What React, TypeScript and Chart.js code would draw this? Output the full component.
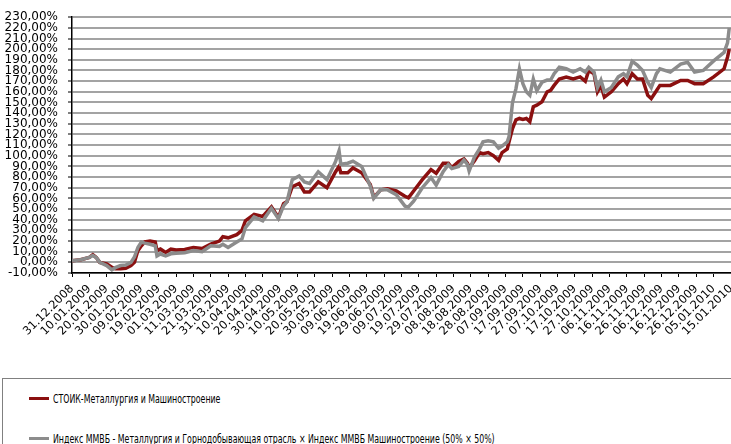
import React, { useEffect, useLayoutEffect, useRef } from "react";
import { Chart, registerables } from "chart.js";

Chart.register(...registerables);

const tickLabels = [
  "31.12.2008", "10.01.2009", "20.01.2009", "30.01.2009", "09.02.2009", "19.02.2009",
  "01.03.2009", "11.03.2009", "21.03.2009", "31.03.2009", "10.04.2009", "20.04.2009",
  "30.04.2009", "10.05.2009", "20.05.2009", "30.05.2009", "09.06.2009", "19.06.2009",
  "29.06.2009", "09.07.2009", "19.07.2009", "29.07.2009", "08.08.2009", "18.08.2009",
  "28.08.2009", "07.09.2009", "17.09.2009", "27.09.2009", "07.10.2009", "17.10.2009",
  "27.10.2009", "06.11.2009", "16.11.2009", "26.11.2009", "06.12.2009", "16.12.2009",
  "26.12.2009", "05.01.2010", "15.01.2010",
];

const yTicks = { min: -10, max: 230, step: 10 };

// days since 31.12.2008
const days = [
  0, 5, 10, 12, 14, 16, 20, 23, 25, 28, 31, 34, 36, 38, 40, 42, 45, 48, 49, 51, 54, 57,
  60, 65, 70, 75, 80, 85, 87, 90, 95, 98, 100, 105, 110, 115, 119, 122, 124, 127,
  131, 134, 137, 142, 147, 152, 154, 155, 159, 162, 167, 172, 174, 178, 182, 187, 192,
  194, 197, 202, 207, 210, 214, 217, 219, 223, 226, 228, 229, 232, 235, 237, 240, 243,
  246, 248, 251, 252, 254, 256, 258, 260, 262, 264, 266, 268, 271, 274, 276, 278, 281,
  285, 289, 293, 296, 298, 301, 303, 305, 307, 311, 315, 318, 320, 323, 326, 329, 332,
  334, 337, 339, 345, 351, 355, 359, 364, 370, 376, 378, 379,
];

const stoik = [
  1.6, 2.5, 4.7, 7.2, 4.5, 0, -1.5, -4.6, -6, -6, -5.5, -3, 0, 11, 15.5, 19.2, 20, 19, 11, 12.5, 9.3, 12.5,
  11.5, 12, 14, 13, 17, 20, 24, 23, 26, 30, 39, 45, 43, 52, 42, 55, 57, 71,
  74, 66, 66, 75.5, 70, 85, 90, 84, 84, 88.5, 84, 73, 61, 68, 69, 67, 62,
  60.5, 67, 77.6, 87, 83.5, 93, 93, 89, 94.6, 97, 93, 88.8, 95, 103, 102, 103, 100,
  95.6, 103, 106.5, 113, 125.6, 133.6, 135, 134, 135, 132, 146, 147.5, 150.6, 160, 161.4, 166, 172,
  173.8, 172, 174, 170, 180, 177, 160, 166, 155, 160, 167.6, 172, 167.6, 177, 172, 172, 156.7,
  153.6, 161, 166, 166, 170.6, 170.6, 167.6, 167.6, 174, 181.6, 192.5, 200,
];

const micex = [
  1.6, 2.5, 4.7, 6.5, 4.5, 0, -3, -7, -5, -3, -2.5, 0, 5, 14, 19, 18, 17, 15.5, 6, 7.8, 6, 8,
  8.5, 9, 11, 10, 15.5, 15, 17, 14, 19, 22, 32.6, 42.7, 39, 50.7, 41, 53, 57, 77.6,
  81, 75.5, 74, 85, 77.6, 94.7, 104.6, 92, 93, 95, 90, 71.5, 60, 68, 68, 63.5, 52.7,
  52, 57.4, 70, 79.5, 72.5, 85, 91.5, 88, 90, 96, 92, 85.7, 98.5, 106.5, 113, 114, 113,
  107, 109, 113, 118, 150, 163, 181.5, 167.6, 160, 156.7, 172, 161, 169, 171, 171, 177, 183,
  181.6, 178.5, 181.6, 178.5, 183, 178.5, 164, 171, 160, 164, 174, 177, 174, 188.6, 185, 180, 169,
  164, 177, 181.6, 178.5, 186, 187.7, 178.5, 180, 189, 197, 206, 220,
];

const seriesNames = [
  "СТОИК-Металлургия и Машиностроение",
  "Индекс ММВБ - Металлургия и Горнодобывающая отрасль × Индекс ММВБ Машиностроение (50% × 50%)",
];
const seriesColors = ["#8b1010", "#8c8c8c"];

const FONT = "'DejaVu Sans', Verdana, sans-serif";
const LEGEND_TEXT_WIDTH = 442;

export default function App() {
  const ref = useRef<HTMLCanvasElement | null>(null);
  const textRefs = useRef<(HTMLSpanElement | null)[]>([]);

  useLayoutEffect(() => {
    const spans = textRefs.current.filter(Boolean) as HTMLSpanElement[];
    if (spans.length < 2) return;
    const w = spans[1].offsetWidth;
    const k = w > 0 ? LEGEND_TEXT_WIDTH / w : 1;
    spans.forEach((s) => {
      s.style.transform = `scaleX(${k})`;
    });
  }, []);

  useEffect(() => {
    if (!ref.current) return;
    const chart = new Chart(ref.current, {
      type: "line",
      data: {
        datasets: [
          {
            label: seriesNames[0],
            data: days.map((d, i) => ({ x: d, y: stoik[i] })),
            borderColor: seriesColors[0],
            backgroundColor: seriesColors[0],
            borderWidth: 3.5,
            pointRadius: 0,
            tension: 0,
            order: 2,
          },
          {
            label: seriesNames[1],
            data: days.map((d, i) => ({ x: d, y: micex[i] })),
            borderColor: seriesColors[1],
            backgroundColor: seriesColors[1],
            borderWidth: 3.5,
            pointRadius: 0,
            tension: 0,
            order: 1,
          },
        ],
      },
      options: {
        responsive: false,
        animation: false,
        devicePixelRatio: 1,
        layout: { padding: { top: 15, left: 0, right: 0, bottom: 0 } },
        plugins: { legend: { display: false }, tooltip: { enabled: false } },
        scales: {
          x: {
            type: "linear",
            min: 0,
            max: (tickLabels.length - 1) * 10,
            afterFit: (s: any) => {
              s.paddingLeft = 0;
              s.paddingRight = 0;
              s.height = 105;
            },
            grid: { drawOnChartArea: false, tickLength: 4, tickColor: "#000", tickWidth: 1 },
            border: { color: "#000", width: 1.5 },
            ticks: {
              stepSize: 10,
              autoSkip: false,
              maxRotation: 45,
              minRotation: 45,
              padding: 5,
              color: "#000",
              font: { family: FONT, size: 11.5 },
              callback: (v: any) => tickLabels[Math.round(Number(v) / 10)] ?? "",
            },
          },
          y: {
            type: "linear",
            min: yTicks.min,
            max: yTicks.max,
            afterFit: (s: any) => {
              s.width = 72;
            },
            grid: { color: "#a3a3a3", lineWidth: 2, tickLength: 4, tickColor: "#000", tickWidth: 1 },
            border: { color: "#000", width: 1.5 },
            ticks: {
              stepSize: yTicks.step,
              autoSkip: false,
              padding: 10,
              color: "#000",
              font: { family: FONT, size: 12 },
              callback: (v: any) => Number(v).toFixed(2).replace(".", ",") + "%",
            },
          },
        },
      },
    });
    return () => chart.destroy();
  }, []);

  return (
    <div
      style={{
        position: "fixed",
        left: 0,
        top: 0,
        width: 731,
        height: 444,
        overflow: "hidden",
        background: "#fff",
      }}
    >
      <canvas ref={ref} width={731} height={378} style={{ display: "block" }} />
      <div
        style={{
          position: "absolute",
          left: 2,
          top: 378,
          width: 760,
          height: 120,
          border: "1px solid #808080",
          fontFamily: "'Liberation Sans Narrow', 'DejaVu Sans Condensed', sans-serif",
          fontSize: 13,
          color: "#000",
        }}
      >
        {seriesNames.map((name, i) => (
          <div
            key={name}
            style={{
              position: "absolute",
              left: 26,
              top: i === 0 ? 12 : 52,
              display: "flex",
              alignItems: "center",
              whiteSpace: "nowrap",
            }}
          >
            <span
              style={{
                display: "inline-block",
                width: 20,
                height: 3,
                background: seriesColors[i],
                marginRight: 4,
              }}
            />
            <span
              ref={(el) => {
                textRefs.current[i] = el;
              }}
              style={{ display: "inline-block", transformOrigin: "left center" }}
            >
              {name}
            </span>
          </div>
        ))}
      </div>
    </div>
  );
}
